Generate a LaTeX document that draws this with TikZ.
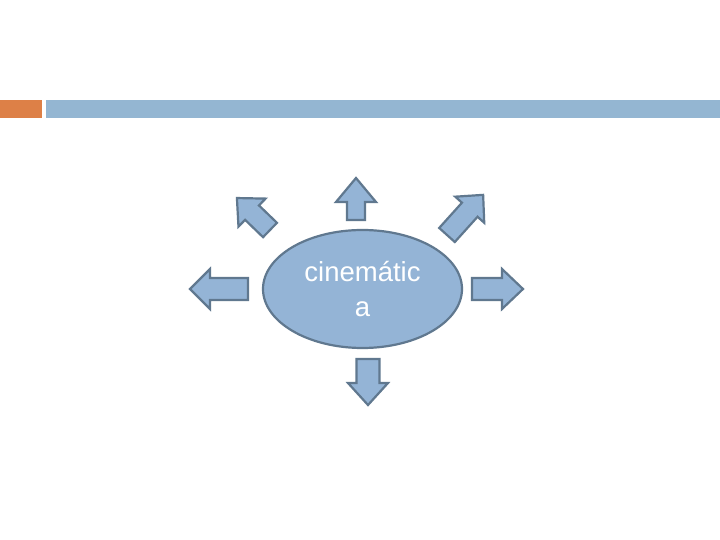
\documentclass[tikz,border=0pt]{standalone}
\usepackage{fontspec}
\setmainfont{Liberation Sans}
\usetikzlibrary{shapes.geometric}
\definecolor{barorange}{HTML}{DD8047}
\definecolor{barblue}{HTML}{94B6D2}
\definecolor{shapefill}{HTML}{94B4D6}
\definecolor{shapeline}{HTML}{60788F}
\tikzset{
  fatarrow/.style={fill=shapefill, draw=shapeline, line width=2.2pt, line join=miter},
}
% #1 base x, #2 base y, #3 angle, #4 length, #5 head length, #6 shaft width, #7 head width
\newcommand{\mybigarrow}[7]{%
  \begin{scope}[shift={(#1,#2)}, rotate=#3]
    \draw[fatarrow] (0,-#6/2) -- ({#4-#5},-#6/2) -- ({#4-#5},-#7/2) -- (#4,0)
      -- ({#4-#5},#7/2) -- ({#4-#5},#6/2) -- (0,#6/2) -- cycle;
  \end{scope}}
\begin{document}
\begin{tikzpicture}[x=1pt,y=1pt]
\useasboundingbox (0,0) rectangle (720,540);
\fill[white] (0,0) rectangle (720,540);
% header bars
\fill[barorange] (0,540-118) rectangle (42,540-100);
\fill[barblue] (46,540-118) rectangle (720,540-100);
% central ellipse
\node[ellipse, minimum width=199pt, minimum height=118pt, fill=shapefill,
      draw=shapeline, line width=2.2pt, text=white, align=center, inner sep=0pt,
      font=\fontsize{27.5}{35}\selectfont] (c) at (362.5,540-289) {cinemátic\\a};
% arrows
\mybigarrow{356}{320}{90}{42}{24}{18}{40}
\mybigarrow{368}{181}{-90}{46}{22}{23}{40}
\mybigarrow{248}{251}{180}{58}{20}{22}{40}
\mybigarrow{472}{251}{0}{51}{21}{22}{40}
\mybigarrow{270}{310}{136}{46}{21}{20}{39}
\mybigarrow{447}{305}{48}{54}{20}{21}{39}
\end{tikzpicture}
\end{document}
